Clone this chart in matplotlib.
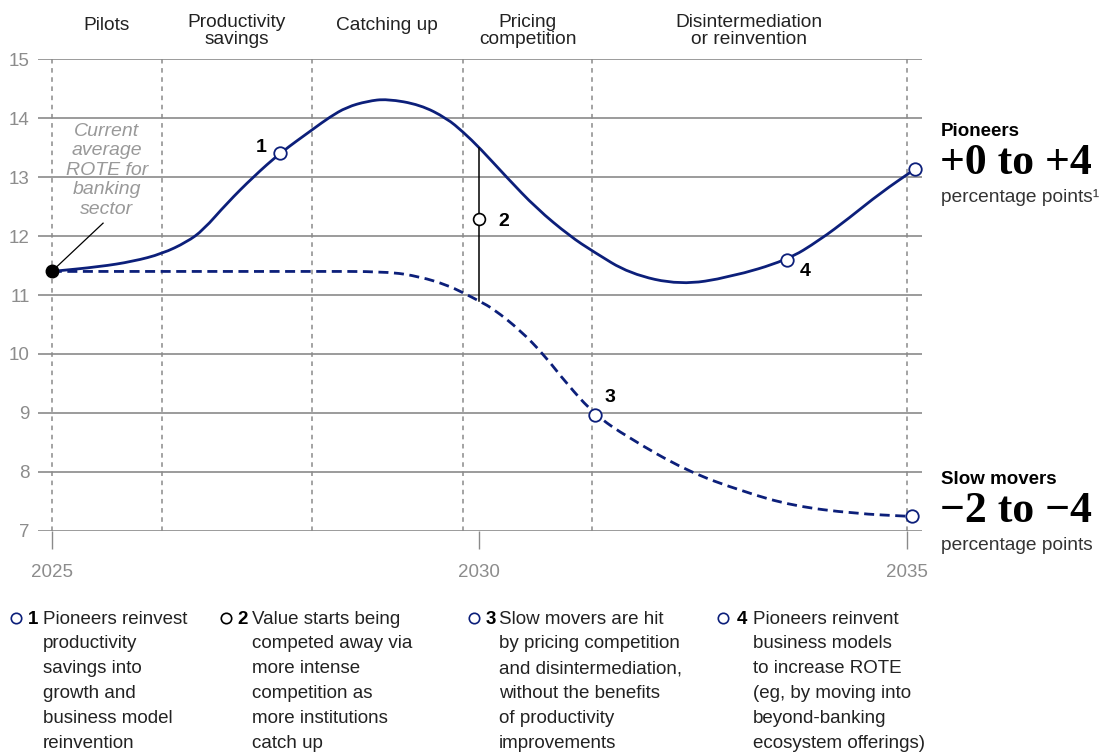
import numpy as np
import matplotlib
matplotlib.use("Agg")
import matplotlib.pyplot as plt
from matplotlib import transforms
from matplotlib.lines import Line2D
from matplotlib.path import Path
from matplotlib.patches import PathPatch

plt.rcParams['font.family'] = ['Liberation Sans', 'DejaVu Sans']

# ---------------- data ----------------
pioneer_years = [2025.0, 2025.56, 2025.95, 2026.29, 2026.58, 2026.77, 2027.05, 2027.36,
                 2027.67, 2028.06, 2028.25, 2028.45, 2028.69, 2028.92, 2029.31, 2029.62, 2029.81,
                 2030.01, 2030.32, 2030.67, 2031.06, 2031.33, 2031.76, 2032.35, 2032.93,
                 2033.60, 2033.98, 2034.33, 2034.69, 2035.10]
pioneer_rote = [11.40, 11.48, 11.57, 11.70, 11.90, 12.10, 12.56, 13.01,
                13.41, 13.82, 14.02, 14.19, 14.29, 14.33, 14.23, 14.00, 13.77,
                13.49, 13.00, 12.47, 12.00, 11.74, 11.36, 11.17, 11.30,
                11.59, 11.93, 12.31, 12.73, 13.14]

slow_years = [2025.0, 2026.0, 2027.0, 2028.0, 2028.92, 2029.31, 2029.62, 2029.81,
              2030.01, 2030.17, 2030.48, 2030.76, 2031.02, 2031.35, 2031.73, 2032.43,
              2033.09, 2033.67, 2034.38, 2035.06]
slow_rote = [11.40, 11.40, 11.40, 11.40, 11.40, 11.31, 11.17, 11.04,
             10.89, 10.76, 10.40, 9.98, 9.50, 8.97, 8.59, 8.01,
             7.66, 7.42, 7.29, 7.24]

phase_bounds = [2025, 2026.29, 2028.04, 2029.81, 2031.32, 2035]
phase_labels = [["Pilots"], ["Productivity", "savings"], ["Catching up"],
                ["Pricing", "competition"], ["Disintermediation", "or reinvention"]]

y_ticks = [7, 8, 9, 10, 11, 12, 13, 14, 15]
x_ticks = [2025, 2030, 2035]

# callouts: (year, value, label)
pioneer_marks = [(2027.67, 13.41, "1"), (2033.60, 11.59, "4"), (2035.10, 13.14, None)]
slow_marks = [(2031.35, 8.97, "3"), (2035.06, 7.24, None)]
mark2_year = 2030.0
mark2_value = 12.29

legend_items = [
    ("1", ["Pioneers reinvest", "productivity", "savings into", "growth and",
           "business model", "reinvention"]),
    ("2", ["Value starts being", "competed away via", "more intense",
           "competition as", "more institutions", "catch up"]),
    ("3", ["Slow movers are hit", "by pricing competition", "and disintermediation,",
           "without the benefits", "of productivity", "improvements"]),
    ("4", ["Pioneers reinvent", "business models", "to increase ROTE",
           "(eg, by moving into", "beyond-banking", "ecosystem offerings)"]),
]

# ---------------- style ----------------
W, H = 1113, 753
NAVY = '#0c1f7a'
GRID = '#8a8a8a'
TXT = '#222222'

fig = plt.figure(figsize=(W / 100, H / 100), dpi=100)
ax_left, ax_right, ax_top, ax_bot = 37.5, 922, 59.4, 530.6
ax = fig.add_axes([ax_left / W, 1 - ax_bot / H, (ax_right - ax_left) / W, (ax_bot - ax_top) / H])
ax.set_xlim(2024.833, 2035.179)
ax.set_ylim(7, 15)
for s in ax.spines.values():
    s.set_visible(False)

def fy(py):
    return 1 - py / H

def fx(px):
    return px / W

def smooth_path(xs, ys):
    """Quadratic-Bezier path using the data points as control points."""
    pts = list(zip(xs, ys))
    verts = [pts[0]]
    codes = [Path.MOVETO]
    verts.append(((pts[0][0] + pts[1][0]) / 2, (pts[0][1] + pts[1][1]) / 2))
    codes.append(Path.LINETO)
    for i in range(1, len(pts) - 1):
        mid = ((pts[i][0] + pts[i + 1][0]) / 2, (pts[i][1] + pts[i + 1][1]) / 2)
        verts += [pts[i], mid]
        codes += [Path.CURVE3, Path.CURVE3]
    verts.append(pts[-1])
    codes.append(Path.LINETO)
    return Path(verts, codes)

# grid
for yv in y_ticks:
    ax.axhline(yv, color=GRID, lw=1.2, zorder=1)
for xv in phase_bounds:
    ax.axvline(xv, color=GRID, lw=1.1, dashes=(3, 3), zorder=1)

ax.set_yticks(y_ticks)
ax.set_yticklabels([str(v) for v in y_ticks])
ax.set_xticks(x_ticks)
ax.set_xticklabels([str(v) for v in x_ticks])
ax.tick_params(axis='y', length=0, pad=5.5, labelsize=13.5, labelcolor='#8c8c8c')
ax.tick_params(axis='x', length=13, width=1, color=GRID, pad=11, labelsize=13.5,
               labelcolor='#8c8c8c', direction='out')

# lines (smoothed through the library's path renderer)
ax.add_patch(PathPatch(smooth_path(pioneer_years, pioneer_rote), fill=False,
                       edgecolor=NAVY, lw=2.0, zorder=3, capstyle='round', joinstyle='round'))
ax.add_patch(PathPatch(smooth_path(slow_years, slow_rote), fill=False,
                       edgecolor=NAVY, lw=2.0, linestyle=(0, (3.6, 2.0)), zorder=3,
                       capstyle='butt'))

# marker 2 connector
top2 = np.interp(mark2_year, pioneer_years, pioneer_rote)
bot2 = np.interp(mark2_year, slow_years, slow_rote)
ax.plot([mark2_year, mark2_year], [bot2, top2], color='black', lw=1.1, zorder=4)
ax.plot([mark2_year], [mark2_value], marker='o', ms=8.5, mfc='white', mec='black', mew=1.2, zorder=6)
ax.annotate("2", (mark2_year, mark2_value), xytext=(14, -2), textcoords='offset points',
            fontsize=14, fontweight='bold', color='black', va='center', ha='left')

for (xv, yv, lab) in pioneer_marks + slow_marks:
    ax.plot([xv], [yv], marker='o', ms=9, mfc='white', mec=NAVY, mew=1.3, zorder=6, clip_on=False)

offsets = {"1": (-10, 4, 'right'), "3": (7, 12, 'left'), "4": (9, -8, 'left')}
for (xv, yv, lab) in pioneer_marks + slow_marks:
    if lab:
        dx, dy, ha = offsets[lab]
        ax.annotate(lab, (xv, yv), xytext=(dx, dy), textcoords='offset points',
                    fontsize=14, fontweight='bold', color='black', va='center', ha=ha)

# starting dot and annotation
ax.plot([2025.60, pioneer_years[0]], [12.22, pioneer_rote[0]], color='black', lw=0.9, zorder=4)
ax.plot([pioneer_years[0]], [pioneer_rote[0]], marker='o', ms=9, color='black', zorder=7, clip_on=False)
btx = transforms.blended_transform_factory(ax.transData, fig.transFigure)
anno_lines = ["Current", "average", "ROTE for", "banking", "sector"]
anno_x = (phase_bounds[0] + phase_bounds[1]) / 2
for i, ln in enumerate(anno_lines):
    fig.text(anno_x, fy(136 + i * 19.4), ln,
             transform=btx, ha='center', va='baseline', fontsize=14, style='italic', color='#999999')

# phase labels
for i, lines in enumerate(phase_labels):
    xc = (phase_bounds[i] + phase_bounds[i + 1]) / 2
    if len(lines) == 1:
        fig.text(xc, fy(30), lines[0], transform=btx, ha='center', va='baseline',
                 fontsize=13.8, color=TXT)
    else:
        for j, ln in enumerate(lines):
            fig.text(xc, fy(26.7 + j * 16.8), ln, transform=btx, ha='center', va='baseline',
                     fontsize=13.8, color=TXT)

# right-hand summary
serif = ['Liberation Serif', 'DejaVu Serif']
fig.text(fx(941), fy(136), "Pioneers", fontsize=13.5, fontweight='bold', color='black', va='baseline')
fig.text(fx(940), fy(173.5), "+0 to +4", fontsize=31.5, fontweight='bold', family=serif,
         color='black', va='baseline')
fig.text(fx(941), fy(202), "percentage points\u00b9", fontsize=13.8, color='#333333', va='baseline')
fig.text(fx(941), fy(483.5), "Slow movers", fontsize=13.5, fontweight='bold', color='black', va='baseline')
fig.text(fx(940), fy(521.5), "\u22122 to \u22124", fontsize=31.5, fontweight='bold', family=serif,
         color='black', va='baseline')
fig.text(fx(941), fy(550.5), "percentage points", fontsize=13.8, color='#333333', va='baseline')

# bottom legend
circle_x = [16, 226, 474, 723]
num_x = [33, 243, 491, 742]
text_x = [43, 252, 499, 753]
circle_col = [NAVY, 'black', NAVY, NAVY]
base0 = 623.5
step = 24.9
for k, (num, lines) in enumerate(legend_items):
    fig.add_artist(Line2D([fx(circle_x[k])], [fy(base0 - 6)], marker='o', ms=7.5, mfc='white',
                          mec=circle_col[k], mew=1.2, transform=fig.transFigure))
    fig.text(fx(num_x[k]), fy(base0), num, fontsize=13.5, fontweight='bold', color='black',
             ha='center', va='baseline')
    for j, ln in enumerate(lines):
        fig.text(fx(text_x[k]), fy(base0 + j * step), ln, fontsize=13.5, color=TXT, va='baseline')

fig.savefig("out.png", dpi=100)
